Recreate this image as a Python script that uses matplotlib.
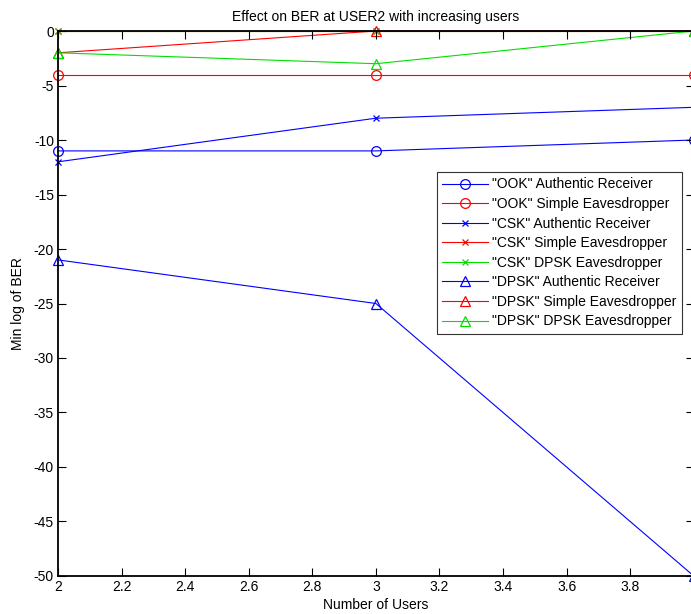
import matplotlib
matplotlib.use("Agg")
import matplotlib.pyplot as plt
import numpy as np

plt.rcParams['font.family'] = ['Liberation Sans', 'DejaVu Sans']
plt.rcParams['axes.unicode_minus'] = False

users = [2, 3, 4]
ook_auth = [-11, -11, -10]
ook_simple = [-4, -4, -4]
csk_auth = [-12, -8, -7]
csk_simple = [0, 0, 0]
csk_dpsk = [0, 0, 0]
dpsk_auth = [-21, -25, -50]
dpsk_simple = [-2, 0, 0]
dpsk_dpsk = [-2, -3, 0]

series = [
    ('"OOK" Authentic Receiver', ook_auth, 'blue', 'o'),
    ('"OOK" Simple Eavesdropper', ook_simple, 'red', 'o'),
    ('"CSK" Authentic Receiver', csk_auth, 'blue', 'x'),
    ('"CSK" Simple Eavesdropper', csk_simple, 'red', 'x'),
    ('"CSK" DPSK Eavesdropper', csk_dpsk, '#00e000', 'x'),
    ('"DPSK" Authentic Receiver', dpsk_auth, 'blue', '^'),
    ('"DPSK" Simple Eavesdropper', dpsk_simple, 'red', '^'),
    ('"DPSK" DPSK Eavesdropper', dpsk_dpsk, '#00e000', '^'),
]

fig = plt.figure(figsize=(6.91, 6.14), dpi=100)
ax = fig.add_axes([0.084, 0.0619, 0.92, 0.8876])
for label, vals, col, mk in series:
    ms = 4 if mk == 'x' else 7
    ax.plot(users, vals, color=col, marker=mk, markersize=ms, markerfacecolor='none',
            markeredgecolor=col, linewidth=0.8, markeredgewidth=0.9, label=label,
            clip_on=False, zorder=1)
for sp in ax.spines.values():
    sp.set_linewidth(1.3)
    sp.set_zorder(5)

ax.set_xlim(2, 4)
ax.set_ylim(-50, 0)
ax.set_xticks(np.arange(2, 4.0, 0.2))
ax.set_xticklabels(['2', '2.2', '2.4', '2.6', '2.8', '3', '3.2', '3.4', '3.6', '3.8'])
ax.set_yticks(np.arange(-50, 1, 5))
ax.tick_params(direction='in', top=True, right=True, labelsize=10, length=6, pad=3, width=0.8)
ax.set_xlabel('Number of Users', fontsize=10, labelpad=3)
ax.set_ylabel('Min log of BER', fontsize=10, labelpad=6)
ax.set_title('Effect on BER at USER2 with increasing users', fontsize=10, pad=7)
leg = ax.legend(loc='upper left', bbox_to_anchor=(0.632, 0.72), bbox_transform=fig.transFigure,
                fontsize=10, frameon=True, fancybox=False, edgecolor='black',
                handlelength=3.3, labelspacing=0.4, borderpad=0.4, handletextpad=0.3,
                borderaxespad=0)
leg.get_frame().set_linewidth(0.8)
leg.set_zorder(6)

fig.savefig('out.png', dpi=100)
